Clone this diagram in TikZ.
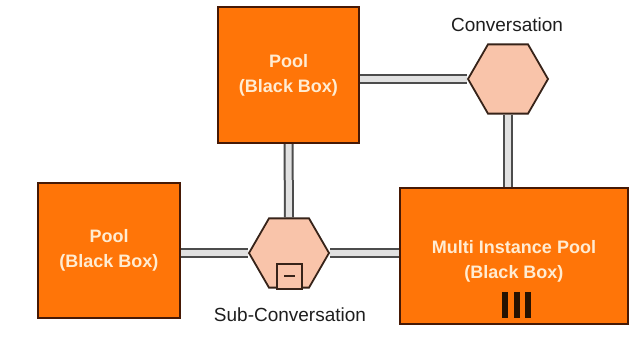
\documentclass[tikz,border=0pt]{standalone}
\usepackage{fontspec}
\setmainfont{Liberation Sans}
\usetikzlibrary{shapes.geometric,backgrounds}

\definecolor{poolfill}{RGB}{255,117,8}
\definecolor{pooledge}{RGB}{70,25,5}
\definecolor{hexfill}{RGB}{249,196,170}
\definecolor{hexedge}{RGB}{55,35,25}
\definecolor{pooltext}{RGB}{255,236,210}
\definecolor{labeltext}{RGB}{30,30,30}
\definecolor{linkfill}{RGB}{225,225,225}

\tikzset{
  pool/.style={draw=pooledge, line width=2pt, fill=poolfill, inner sep=0pt},
  pooltxt/.style={text=pooltext, align=center, font=\bfseries\fontsize{18}{25}\selectfont},
  convhex/.style={regular polygon, regular polygon sides=6, minimum size=80pt,
    inner sep=0pt, draw=hexedge, line width=1.8pt, fill=hexfill},
  convlabel/.style={text=labeltext, font=\fontsize{19}{23}\selectfont},
  link/.style={draw=black!70, line width=2pt, double=linkfill, double distance=6pt},
  mibar/.style={fill=black!85!poolfill, draw=none},
  markerbox/.style={draw=hexedge, line width=2pt, fill=hexfill,
    minimum size=25pt, inner sep=0pt},
}

\begin{document}
\begin{tikzpicture}[x=1pt, y=-1pt]
  \useasboundingbox (0,0) rectangle (642,346);

  % participants (black-box pools)
  \node[pool, minimum width=141pt, minimum height=136pt] (poolTop) at (288.5,75) {};
  \node[pool, minimum width=142pt, minimum height=135pt] (poolLeft) at (109,250.5) {};
  \node[pool, minimum width=228pt, minimum height=136pt] (multi) at (514,256) {};

  % conversations
  \node[convhex] (conv) at (508,79) {};
  \node[convhex] (subconv) at (289,253) {};

  % conversation links, kept behind the shapes
  \begin{scope}[on background layer]
    \fill[white] (0,0) rectangle (642,346);
    \draw[link] (poolTop.east |- conv.west) -- (conv.west);
    \draw[link] (poolTop.south) -- (subconv.north);
    \draw[link] (conv.south) -- (conv.south |- multi.north);
    \draw[link] (poolLeft.east |- subconv.west) -- (subconv.west);
    \draw[link] (subconv.east) -- (subconv.east -| multi.west);
  \end{scope}

  % pool captions
  \node[pooltxt] (poolTopTxt) at (poolTop.center) {Pool\\(Black Box)};
  \node[pooltxt] (poolLeftTxt) at (poolLeft.center) {Pool\\(Black Box)};
  \node[pooltxt] (multiTxt) at ([yshift=-5pt]multi.center) {Multi Instance Pool\\(Black Box)};

  % multi-instance marker
  \fill[mibar] (502,292) rectangle (508,318);
  \fill[mibar] (513.5,292) rectangle (519.5,318);
  \fill[mibar] (525,292) rectangle (531,318);

  % sub-conversation marker
  \node[markerbox] (subMark) at (289.5,276) {};
  \draw[line width=2.6pt, hexedge] ([xshift=-5.5pt]subMark.center) -- ([xshift=5.5pt]subMark.center);

  % conversation labels
  \node[convlabel] (convLbl) at (507,25) {Conversation};
  \node[convlabel] (subconvLbl) at (290,315) {Sub-Conversation};
\end{tikzpicture}
\end{document}
